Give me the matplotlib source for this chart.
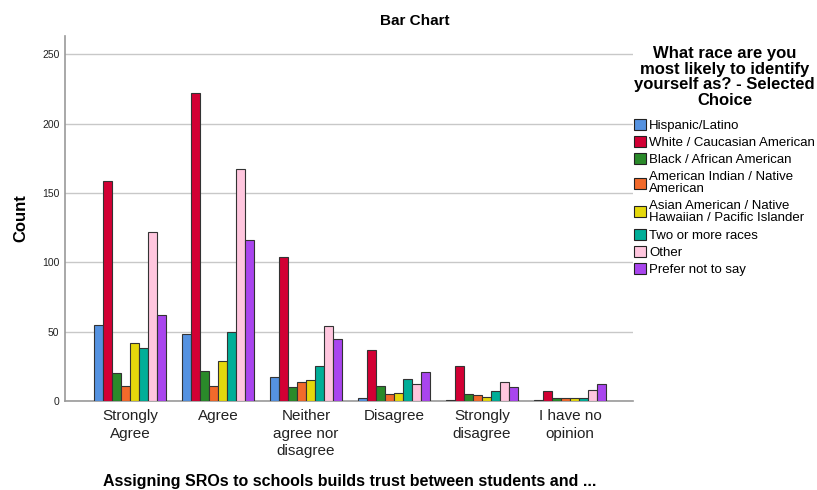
import numpy as np
import matplotlib.pyplot as plt
from matplotlib.patches import Patch

plt.rcParams['font.family'] = ['Liberation Sans', 'DejaVu Sans']

categories = ["Strongly\nAgree", "Agree", "Neither\nagree nor\ndisagree", "Disagree",
              "Strongly\ndisagree", "I have no\nopinion"]
races = ["Hispanic/Latino", "White / Caucasian American", "Black / African American",
         "American Indian / Native\nAmerican", "Asian American / Native\nHawaiian / Pacific Islander",
         "Two or more races", "Other", "Prefer not to say"]

hispanic = [55, 48, 17, 2, 1, 1]
white = [159, 222, 104, 37, 25, 7]
black = [20, 22, 10, 11, 5, 2]
am_indian = [11, 11, 14, 5, 4, 2]
asian = [42, 29, 15, 6, 3, 2]
two_more = [38, 50, 25, 16, 7, 2]
other = [122, 167, 54, 12, 14, 8]
prefer_not = [62, 116, 45, 21, 10, 12]

series = [hispanic, white, black, am_indian, asian, two_more, other, prefer_not]
colors = ["#5592E0", "#D20034", "#2A8A2A", "#F26A2B", "#E5D80C", "#00AE98", "#FFC6DE", "#A945EE"]

fig = plt.figure(figsize=(8.17, 4.9), dpi=100)
ax = fig.add_axes([0.0796, 0.1816, 0.6952, 0.7449])

x = np.arange(len(categories))
w = 0.103
for i, (vals, c) in enumerate(zip(series, colors)):
    ax.bar(x + (i - 3.5) * w, vals, width=w, color=c, edgecolor="#333333", linewidth=0.8, zorder=3)

ax.set_xlim(-0.739, 5.716)
ax.set_ylim(0, 263.2)
ax.set_yticks([0, 50, 100, 150, 200, 250])
ax.yaxis.grid(True, color="#c8c8c8", linewidth=1, zorder=0)
ax.set_xticks(x)
ax.set_xticklabels(categories, fontsize=11, color="#222222", linespacing=1.3)
ax.tick_params(axis="both", length=0)
ax.tick_params(axis="y", labelsize=7.5, pad=4, labelcolor="#222222")
ax.tick_params(axis="x", pad=6)
for s in ["top", "right"]:
    ax.spines[s].set_visible(False)
for s in ["left", "bottom"]:
    ax.spines[s].set_color("#999999")
    ax.spines[s].set_linewidth(1.2)

ax.set_ylabel("Count", fontsize=12, fontweight="bold", labelpad=10)
fig.text(0.428, 0.018, "Assigning SROs to schools builds trust between students and ...",
         ha="center", va="center", fontsize=11.5, fontweight="bold")
fig.text(0.508, 0.958, "Bar Chart", ha="center", va="center", fontsize=11, fontweight="bold")

handles = [Patch(facecolor=c, edgecolor="#222222", linewidth=0.8) for c in colors]
leg = fig.legend(handles, races, loc="upper left", bbox_to_anchor=(0.776, 0.906),
                 frameon=False, fontsize=9.5, handlelength=0.9, handleheight=0.9,
                 handletextpad=0.25, labelspacing=0.32, borderpad=0, borderaxespad=0,
                 title="What race are you\nmost likely to identify\nyourself as? - Selected\nChoice",
                 title_fontproperties={"weight": "bold", "size": 12})
leg.get_title().set_linespacing(1.05)
leg.get_title().set_multialignment("center")
leg._legend_box.sep = 8
for t in leg.get_texts():
    t.set_linespacing(1.08)

fig.savefig("out.png", dpi=100)
